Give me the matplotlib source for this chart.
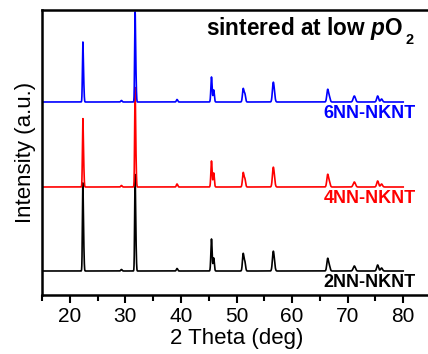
"""XRD patterns of xNN-NKNT ceramics sintered at low pO2 (stacked, offset)."""

import matplotlib
matplotlib.use("Agg")
import matplotlib.pyplot as plt
import numpy as np
from matplotlib.ticker import MultipleLocator

plt.rcParams["font.family"] = ["Liberation Sans", "DejaVu Sans"]
plt.rcParams["mathtext.fontset"] = "custom"
plt.rcParams["mathtext.rm"] = "Liberation Sans"
plt.rcParams["mathtext.it"] = "Liberation Sans:italic"
plt.rcParams["mathtext.bf"] = "Liberation Sans:bold"
plt.rcParams["mathtext.bfit"] = "Liberation Sans:bold:italic"

# --- data -----------------------------------------------------------------
# peak positions (2 theta, deg) and peak widths (sigma, deg), shared by all samples
peak_pos = [22.35, 22.5, 29.3, 31.75, 31.9, 39.3, 45.5, 45.9, 51.2, 51.5,
            56.6, 56.8, 66.4, 66.7, 71.2, 75.4, 76.1]
peak_sigma = [0.08, 0.08, 0.12, 0.08, 0.08, 0.12, 0.11, 0.11, 0.13, 0.13,
              0.15, 0.15, 0.15, 0.15, 0.2, 0.17, 0.17]

# peak heights (arb. units) per sample
h_2nn = [84, 22, 1.5, 92, 24, 2.5, 32, 13, 17, 9, 17, 6, 12, 5, 5, 6, 3]
h_4nn = [65, 18, 1.5, 95, 24, 3.0, 26, 14, 14, 8, 17, 6, 12, 5, 5, 6, 3]
h_6nn = [57, 16, 1.5, 86, 22, 2.5, 25, 12, 13, 8, 17, 6, 12, 5, 6, 6, 3]

samples = ["2NN-NKNT", "4NN-NKNT", "6NN-NKNT"]
offsets = [24, 108, 193]
colors = ["black", "red", "blue"]
heights = [h_2nn, h_4nn, h_6nn]

two_theta = np.arange(15, 80.01, 0.02)


def pattern(hts):
    y = np.zeros_like(two_theta)
    for p, s, h in zip(peak_pos, peak_sigma, hts):
        y += h * np.exp(-0.5 * ((two_theta - p) / s) ** 2)
    return y


# --- plot -----------------------------------------------------------------
fig = plt.figure(figsize=(4.28, 3.54), dpi=100)
ax = fig.add_axes([42 / 428, 59 / 354, 389 / 428, 285 / 354])

for name, off, col, hts in zip(samples, offsets, colors, heights):
    ax.plot(two_theta, pattern(hts) + off, color=col, lw=1.2)
    ax.text(82.3, off - 16, name, color=col, fontsize=13, fontweight="bold",
            ha="right", va="baseline")

# title, with the subscript dropped fully below the baseline like the original
ax.text(44.6, 260, r"sintered at low $\mathbfit{p}$O",
        fontsize=16.3, fontweight="bold", ha="left", va="baseline")
ax.text(80.4, 251, "2", fontsize=10.5, fontweight="bold", ha="left", va="baseline")

ax.set_xlim(15, 85)
ax.set_ylim(0, 285)
ax.xaxis.set_major_locator(MultipleLocator(10))
ax.xaxis.set_minor_locator(MultipleLocator(5))
ax.tick_params(axis="x", which="major", direction="out", length=6, width=1.5,
               labelsize=15, pad=3)
ax.tick_params(axis="x", which="minor", direction="out", length=4, width=1.5)
ax.set_yticks([])
for sp in ax.spines.values():
    sp.set_linewidth(1.8)

ax.set_xlabel("2 Theta (deg)", fontsize=16, labelpad=1)
ax.set_ylabel("Intensity (a.u.)", fontsize=16, labelpad=4)

fig.savefig("out.png", dpi=100)
